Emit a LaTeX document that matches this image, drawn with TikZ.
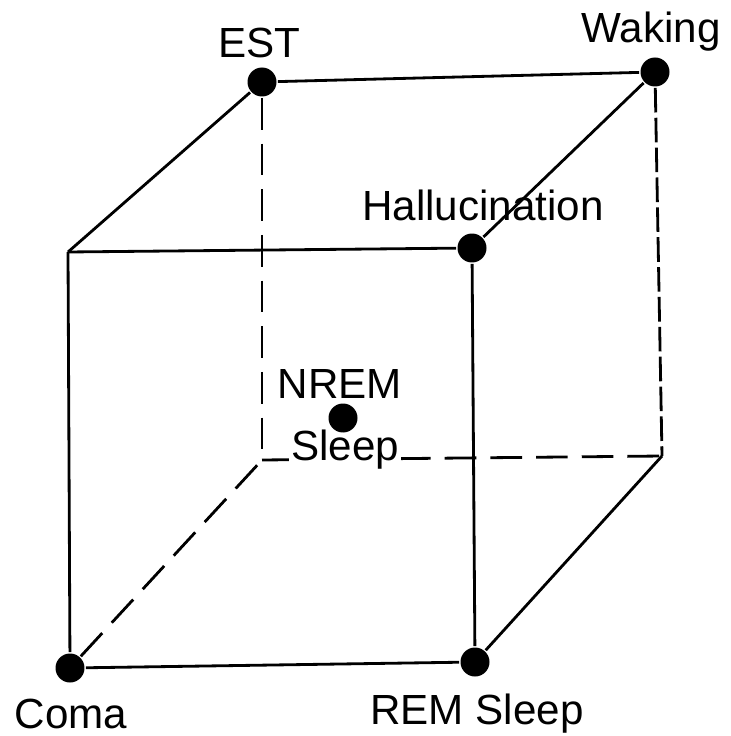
\documentclass[tikz,border=0pt]{standalone}
\usepackage{fontspec}
\setmainfont{Liberation Sans}

\begin{document}
\begin{tikzpicture}[
  x=0.02cm, y=-0.02cm,
  line width=1.6pt,
  font=\fontsize{24}{28}\selectfont,
  dot/.style={circle, fill=black, inner sep=0pt, minimum size=0.58cm},
  lbl/.style={anchor=base, inner sep=1pt},
  hid/.style={dash pattern=on 18pt off 8pt},
  part/.style={dash pattern=on 14pt off 3pt}
]
  \useasboundingbox (0,0) rectangle (730,736);
  % corners of the cube
  \node[dot] (est)  at (262,82)  {};
  \node[dot] (wake) at (655,72)  {};
  \node[dot] (hall) at (472,248) {};
  \node[dot] (coma) at (70,668)  {};
  \node[dot] (rem)  at (475,662) {};
  \coordinate (ftl) at (68,252);
  \coordinate (bbl) at (262,460);
  \coordinate (bbr) at (662,456);
  % edges
  \draw (ftl) -- (est);   \draw (est) -- (wake);
  \draw (ftl) -- (hall);  \draw (ftl) -- (coma);
  \draw (coma) -- (rem);  \draw (hall) -- (rem);
  \draw (rem) -- (bbr);   \draw (hall) -- (wake);
  \draw[part] (wake) -- (bbr);
  \draw[hid] (est) -- (bbl);
  \draw[hid] (bbl) -- (bbr);
  \draw[hid] (coma) -- (bbl);
  % labels
  \node[lbl] (lest)  at (259,58)  {EST};
  \node[lbl] (lwake) at (651,43)  {Waking};
  \node[lbl] (lhall) at (483,221) {Hallucination};
  \node[lbl] (lcoma) at (71,728)  {Coma};
  \node[lbl] (lrem)  at (477,724) {REM Sleep};
  \node[lbl] (lnrem) at (340,398) {NREM};
  \node[lbl, fill=white] (lslp) at (345,460) {Sleep};
  \node[dot] (nrem) at (343,418) {};
\end{tikzpicture}
\end{document}
